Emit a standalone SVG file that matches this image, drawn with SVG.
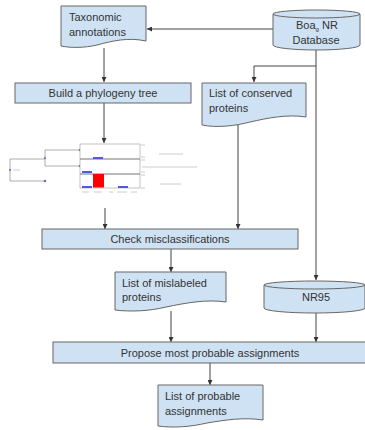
<svg xmlns="http://www.w3.org/2000/svg" width="365" height="430" viewBox="0 0 365 430">
<defs>
<marker id="ah" viewBox="0 0 6 6" refX="6" refY="3" markerWidth="5" markerHeight="5" orient="auto" markerUnits="userSpaceOnUse"><path d="M0,0 L6,3 L0,6 Z" fill="#333"/></marker>
<style>
.sh{fill:#cfe2f3;stroke:#666;stroke-width:1}
.t{font-family:"Liberation Sans",Arial,sans-serif;font-size:11px;fill:#333}
.c{stroke:#444;stroke-width:1;fill:none}
.g{stroke:#777;stroke-width:0.6;fill:none}
.tl{stroke:#ccc;stroke-width:1}
</style>
</defs>
<rect width="365" height="430" fill="#fff"/>

<g id="connectors">
<path class="c" d="M273,29 H147" marker-end="url(#ah)"/>
<path class="c" d="M104,48 V82" marker-end="url(#ah)"/>
<path class="c" d="M316,49 V280" marker-end="url(#ah)"/>
<path class="c" d="M316,66 H254 V82" marker-end="url(#ah)"/>
<path class="c" d="M104,103 V143" marker-end="url(#ah)"/>
<path class="c" d="M105,208 V229" marker-end="url(#ah)"/>
<path class="c" d="M238,124 V229" marker-end="url(#ah)"/>
<path class="c" d="M171,249 V272" marker-end="url(#ah)"/>
<path class="c" d="M171,311 V342" marker-end="url(#ah)"/>
<path class="c" d="M316,313 V342" marker-end="url(#ah)"/>
<path class="c" d="M210,363 V385" marker-end="url(#ah)"/>
</g>

<g id="taxonomic">
<path class="sh" d="M61,6 H146 V41 C128,37 112,41 97,45 C84,48 71,48 61,46 Z"/>
<text class="t" x="69" y="21">Taxonomic</text>
<text class="t" x="69" y="36">annotations</text>
</g>

<g id="boa">
<path class="sh" d="M273,14 V45 A43.5,5 0 0 0 360,45 V14"/>
<ellipse class="sh" cx="316.5" cy="14" rx="43.5" ry="4"/>
<text class="t" x="296" y="29">Boa<tspan font-size="6" dy="2">g</tspan><tspan dy="-2"> NR</tspan></text>
<text class="t" x="316" y="44" text-anchor="middle">Database</text>
</g>

<g id="build">
<rect class="sh" x="15" y="83" width="176" height="20"/>
<text class="t" x="103" y="97" text-anchor="middle">Build a phylogeny tree</text>
</g>

<g id="conserved">
<path class="sh" d="M202,83 H306 V117 C287,114 268,118 250,122 C235,126 217,128 202,125 Z"/>
<text class="t" x="209" y="97">List of conserved</text>
<text class="t" x="209" y="112">proteins</text>
</g>

<g id="tree">
<path class="g" d="M10,159 V181 M10,159 H45 M10,181 H45 M45,150 V166 M45,150 H80 M45,166 H80"/>
<circle cx="10" cy="170" r="1" fill="#66c"/>
<circle cx="45" cy="158" r="1" fill="#66c"/>
<circle cx="45" cy="181" r="1.2" fill="#66c"/>
<circle cx="80" cy="150" r="1.2" fill="#66c"/>
<circle cx="80" cy="166" r="1.2" fill="#66c"/>
<line class="tl" x1="13" y1="170" x2="20" y2="170"/>
<rect x="80" y="144" width="60" height="44" fill="#fff" stroke="#999" stroke-width="0.6"/>
<line x1="80" y1="159" x2="140" y2="159" stroke="#777" stroke-width="1.2"/>
<line x1="80" y1="174" x2="140" y2="174" stroke="#777" stroke-width="1.2"/>
<rect x="93" y="157" width="10" height="2" fill="#55d"/>
<rect x="82" y="171" width="10" height="2" fill="#55d"/>
<rect x="93" y="174" width="11" height="13.5" fill="#f00"/>
<rect x="82" y="186" width="10" height="2" fill="#55d"/>
<rect x="118" y="186" width="10" height="2" fill="#55d"/>
<g class="tl">
<line x1="141" y1="145" x2="145" y2="145"/><line x1="141" y1="157" x2="145" y2="157"/>
<line x1="141" y1="160" x2="145" y2="160"/><line x1="141" y1="172" x2="145" y2="172"/>
<line x1="141" y1="175" x2="145" y2="175"/><line x1="141" y1="188" x2="145" y2="188"/>
<line x1="159" y1="154" x2="183" y2="154"/>
<line x1="142" y1="167" x2="197" y2="167"/>
<line x1="160" y1="184" x2="181" y2="184"/>
<line x1="82" y1="192" x2="89" y2="192"/><line x1="94" y1="192" x2="102" y2="192"/>
<line x1="109" y1="192" x2="113" y2="192"/><line x1="117" y1="192" x2="127" y2="192"/>
<line x1="131" y1="192" x2="137" y2="192"/>
</g>
</g>

<g id="check">
<rect class="sh" x="42" y="229" width="256" height="20"/>
<text class="t" x="170" y="243" text-anchor="middle">Check misclassifications</text>
</g>

<g id="mislabeled">
<path class="sh" d="M115,272 H226 V302 C206,299 186,303 166,307 C150,311 131,312 115,310 Z"/>
<text class="t" x="122" y="287">List of mislabeled</text>
<text class="t" x="122" y="301">proteins</text>
</g>

<g id="nr95">
<path class="sh" d="M264,285 V308 A50.5,5 0 0 0 365,308 V285"/>
<ellipse class="sh" cx="314.5" cy="285" rx="50.5" ry="4"/>
<text class="t" x="316" y="301" text-anchor="middle" font-size="12">NR95</text>
</g>

<g id="propose">
<rect class="sh" x="53" y="342" width="313" height="21"/>
<text class="t" x="210" y="357" text-anchor="middle">Propose most probable assignments</text>
</g>

<g id="probable">
<path class="sh" d="M158,385 H263 V420 C244,417 225,420 207,423 C190,427 173,428 158,426 Z"/>
<text class="t" x="165" y="400">List of probable</text>
<text class="t" x="165" y="415">assignments</text>
</g>
</svg>
